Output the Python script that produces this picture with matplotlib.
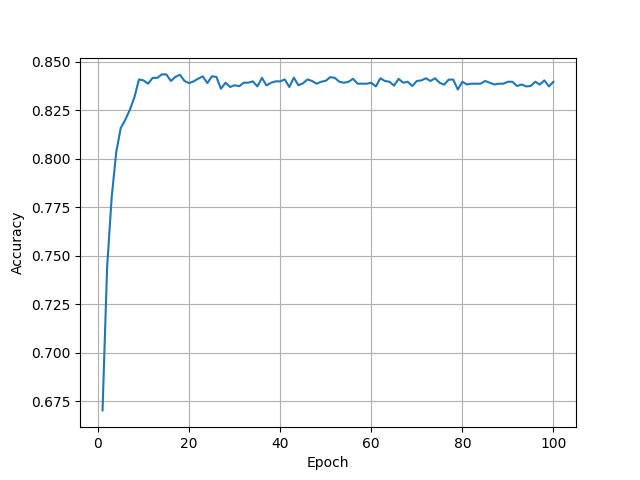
import matplotlib
matplotlib.use("Agg")
import matplotlib.pyplot as plt

epochs = list(range(1, 101))
accuracy = [
    0.6702, 0.7440, 0.7800, 0.8034, 0.8160, 0.8202, 0.8254, 0.8318, 0.8410, 0.8405,
    0.8388, 0.8418, 0.8418, 0.8436, 0.8436, 0.8402, 0.8423, 0.8434, 0.8402, 0.8391,
    0.8400, 0.8414, 0.8426, 0.8391, 0.8426, 0.8423, 0.8362, 0.8393, 0.8371, 0.8380,
    0.8375, 0.8393, 0.8393, 0.8400, 0.8374, 0.8418, 0.8379, 0.8393, 0.8400, 0.8400,
    0.8410, 0.8371, 0.8419, 0.8380, 0.8390, 0.8410, 0.8402, 0.8388, 0.8398, 0.8403,
    0.8422, 0.8418, 0.8398, 0.8393, 0.8398, 0.8413, 0.8388, 0.8388, 0.8388, 0.8393,
    0.8374, 0.8416, 0.8402, 0.8398, 0.8378, 0.8413, 0.8393, 0.8398, 0.8376, 0.8402,
    0.8405, 0.8416, 0.8402, 0.8416, 0.8393, 0.8383, 0.8409, 0.8409, 0.8358, 0.8398,
    0.8384, 0.8388, 0.8388, 0.8388, 0.8402, 0.8393, 0.8384, 0.8388, 0.8388, 0.8398,
    0.8398, 0.8376, 0.8384, 0.8374, 0.8376, 0.8398, 0.8384, 0.8405, 0.8374, 0.8398,
]

fig, ax = plt.subplots(figsize=(6.4, 4.8), dpi=100)
ax.plot(epochs, accuracy)
ax.set_xlabel("Epoch")
ax.set_ylabel("Accuracy")
ax.grid(True)
fig.savefig("out.png")
